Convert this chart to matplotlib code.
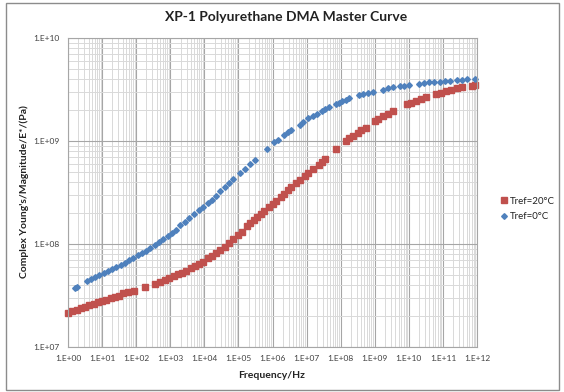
import matplotlib
matplotlib.use("Agg")
import matplotlib.pyplot as plt
import numpy as np
from matplotlib.patches import Rectangle
from matplotlib.ticker import LogLocator, FixedLocator, NullFormatter

plt.rcParams['font.family'] = ['Lato', 'DejaVu Sans']

# log10(frequency / Hz) and log10(|E*| / Pa)
blue_logf = [0.20, 0.27, 0.55, 0.68, 0.80, 0.92, 1.05, 1.17, 1.30, 1.42, 1.55, 1.67,
             1.80, 1.92, 2.05, 2.17, 2.30, 2.42, 2.55, 2.67, 2.80, 2.92, 3.05, 3.17,
             3.30, 3.42, 3.55, 3.70, 3.85, 3.97, 4.10, 4.22, 4.35, 4.47, 4.60, 4.72,
             4.85, 5.05, 5.20, 5.35, 5.50, 5.85, 6.05, 6.15, 6.35, 6.45, 6.55, 6.80,
             6.90, 7.05, 7.20, 7.30, 7.45, 7.55, 7.65, 7.85, 7.95, 8.05, 8.15, 8.25,
             8.55, 8.65, 8.80, 8.95, 9.25, 9.40, 9.55, 9.75, 9.85, 10.00, 10.30, 10.45,
             10.60, 10.75, 10.90, 11.05, 11.20, 11.40, 11.55, 11.70, 11.95]
blue_logE = [7.57, 7.58, 7.64, 7.66, 7.68, 7.70, 7.72, 7.74, 7.76, 7.78, 7.80, 7.82,
             7.84, 7.86, 7.89, 7.91, 7.93, 7.96, 7.99, 8.02, 8.05, 8.08, 8.11, 8.14,
             8.18, 8.21, 8.25, 8.29, 8.33, 8.36, 8.40, 8.43, 8.47, 8.51, 8.55, 8.59,
             8.63, 8.69, 8.73, 8.78, 8.82, 8.92, 8.99, 9.01, 9.06, 9.09, 9.11, 9.16,
             9.18, 9.22, 9.24, 9.26, 9.29, 9.31, 9.33, 9.36, 9.37, 9.39, 9.40, 9.42,
             9.45, 9.46, 9.47, 9.48, 9.50, 9.51, 9.52, 9.53, 9.53, 9.54, 9.55, 9.56,
             9.57, 9.57, 9.57, 9.58, 9.58, 9.59, 9.59, 9.60, 9.60]

red_logf = [0.00, 0.12, 0.25, 0.37, 0.50, 0.62, 0.75, 0.87, 1.00, 1.12, 1.25, 1.37,
            1.50, 1.62, 1.75, 1.95, 2.25, 2.55, 2.70, 2.85, 2.97, 3.10, 3.22, 3.35,
            3.47, 3.60, 3.72, 3.85, 3.97, 4.10, 4.22, 4.35, 4.47, 4.60, 4.72, 4.85,
            5.00, 5.10, 5.25, 5.35, 5.45, 5.55, 5.65, 5.75, 5.90, 6.00, 6.10, 6.25,
            6.35, 6.45, 6.55, 6.70, 6.80, 6.95, 7.05, 7.20, 7.35, 7.45, 7.55, 7.85,
            8.15, 8.25, 8.35, 8.50, 8.60, 8.75, 9.00, 9.10, 9.25, 9.40, 9.55, 9.95,
            10.05, 10.20, 10.35, 10.50, 10.80, 10.95, 11.10, 11.25, 11.40, 11.55,
            11.85, 11.95]
red_logE = [7.33, 7.35, 7.36, 7.38, 7.39, 7.41, 7.42, 7.44, 7.45, 7.46, 7.48, 7.49,
            7.50, 7.52, 7.53, 7.54, 7.58, 7.61, 7.63, 7.65, 7.67, 7.69, 7.71, 7.72,
            7.74, 7.77, 7.79, 7.81, 7.83, 7.86, 7.88, 7.91, 7.94, 7.97, 8.01, 8.05,
            8.09, 8.12, 8.17, 8.20, 8.23, 8.26, 8.29, 8.32, 8.36, 8.39, 8.42, 8.46,
            8.49, 8.52, 8.55, 8.59, 8.62, 8.66, 8.69, 8.73, 8.77, 8.80, 8.83, 8.92,
            9.00, 9.03, 9.05, 9.08, 9.11, 9.13, 9.19, 9.21, 9.24, 9.26, 9.29, 9.36,
            9.37, 9.39, 9.41, 9.43, 9.46, 9.47, 9.49, 9.50, 9.51, 9.52, 9.53, 9.54]

x_ticks = [10.0 ** k for k in range(0, 13)]
x_ticklabels = ["1.E+%02d" % k for k in range(0, 13)]
y_ticks = [1e7, 1e8, 1e9, 1e10]
y_ticklabels = ["1.E+07", "1.E+08", "1.E+09", "1.E+10"]

title = "XP-1 Polyurethane DMA Master Curve"
xlabel = "Frequency/Hz"
ylabel = "Complex Young's/Magnitude/E*/(Pa)"
labels = ["Tref=20°C", "Tref=0°C"]

red = "#C0504D"
blue = "#4F81BD"

fig = plt.figure(figsize=(5.64, 3.92), dpi=100)
fig.patches.append(Rectangle((6/564, 2/392), 553/564, 387/392, transform=fig.transFigure,
                             fill=False, edgecolor="#8c8c8c", linewidth=1.0))
ax = fig.add_axes([68/564, 45/392, 409/564, 309/392])

ax.set_xscale("log")
ax.set_yscale("log")
ax.set_xlim(1e0, 1e12)
ax.set_ylim(1e7, 1e10)

ax.xaxis.set_major_locator(FixedLocator(x_ticks))
ax.xaxis.set_minor_locator(LogLocator(base=10, subs=np.arange(2, 10), numticks=100))
ax.yaxis.set_major_locator(FixedLocator(y_ticks))
ax.yaxis.set_minor_locator(LogLocator(base=10, subs=np.arange(2, 10), numticks=100))
ax.set_xticklabels(x_ticklabels)
ax.set_yticklabels(y_ticklabels)
ax.xaxis.set_minor_formatter(NullFormatter())
ax.yaxis.set_minor_formatter(NullFormatter())
ax.tick_params(which="both", length=0)
ax.tick_params(axis="both", labelsize=6, colors="#404040", pad=6)

ax.grid(which="major", color="#a6a6a6", linewidth=0.8)
ax.grid(which="minor", color="#d9d9d9", linewidth=0.7)
ax.set_axisbelow(True)
for s in ax.spines.values():
    s.set_color("#a6a6a6")
    s.set_linewidth(0.8)

ax.plot(10.0 ** np.array(red_logf), 10.0 ** np.array(red_logE), linestyle="none",
        marker="s", markersize=4.0, color=red, label=labels[0], clip_on=False)
ax.plot(10.0 ** np.array(blue_logf), 10.0 ** np.array(blue_logE), linestyle="none",
        marker="D", markersize=2.9, color=blue, label=labels[1], clip_on=False)

fig.text(286/564, 1 - 17/392, title, ha="center", va="center",
         fontsize=10, fontweight="bold", color="#222222")
fig.text(272/564, 1 - 376/392, xlabel, ha="center", va="center",
         fontsize=7.5, fontweight="bold", color="#222222")
fig.text(24/564, 1 - 192/392, ylabel, ha="center", va="center", rotation=90,
         fontsize=7.5, fontweight="bold", color="#222222")

leg = ax.legend(loc="center left", bbox_to_anchor=(499/564, 1 - 209/392),
                bbox_transform=fig.transFigure, frameon=False, fontsize=7,
                handletextpad=0.1, handlelength=0.9, borderpad=0.1,
                borderaxespad=0.0, labelspacing=0.7)
for t in leg.get_texts():
    t.set_color("#222222")

fig.savefig("out.png", dpi=100)
